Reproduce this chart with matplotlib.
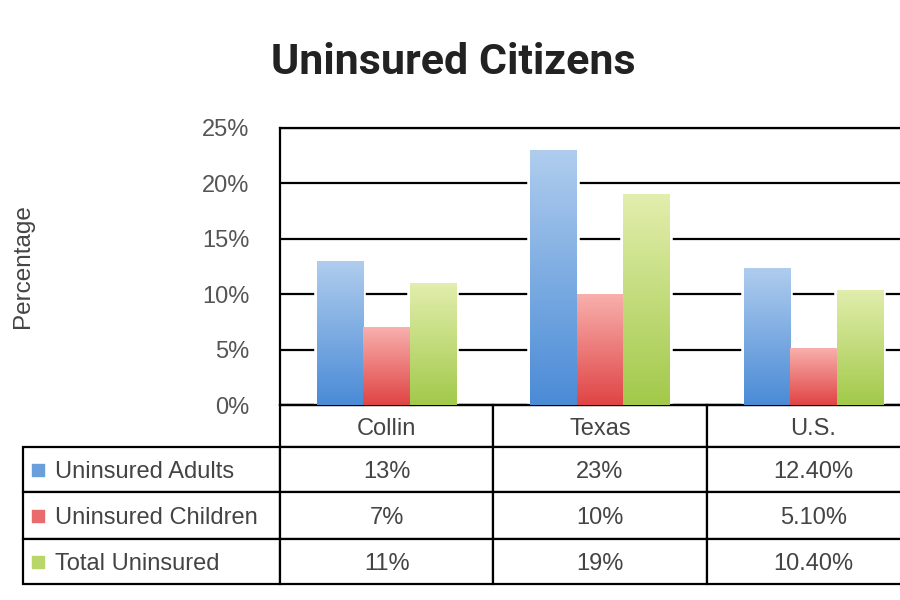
import numpy as np
import matplotlib.pyplot as plt
from matplotlib.table import Table
from matplotlib.colors import LinearSegmentedColormap

categories = ["Collin", "Texas", "U.S."]
series_names = ["Uninsured Adults", "Uninsured Children", "Total Uninsured"]
adults = [13, 23, 12.4]
children = [7, 10, 5.1]
total = [11, 19, 10.4]
cell_labels = [["13%", "23%", "12.40%"],
               ["7%", "10%", "5.10%"],
               ["11%", "19%", "10.40%"]]
yticks = [0, 5, 10, 15, 20, 25]

# top colour, bottom colour for the gradient
grads = [("#b0cdee", "#4a8bd6"),
         ("#f8b0ad", "#e04444"),
         ("#e2eead", "#a2c94a")]
solid = ["#6b9fdc", "#ea6b6b", "#b9d66b"]

plt.rcParams['font.family'] = ['Liberation Sans', 'DejaVu Sans']

fig = plt.figure(figsize=(9, 6), dpi=100)
AX_W, AX_H = 640, 277
ax = fig.add_axes([280 / 900, 1 - 405 / 600, AX_W / 900, AX_H / 600])

x = np.arange(len(categories)) + 0.5
w = 0.218

for i, vals in enumerate([adults, children, total]):
    pos = x + (i - 1) * w
    # white backing to break the grid lines around bars
    ax.bar(pos, vals, w, color="white", edgecolor="white", linewidth=4, zorder=2)
    bars = ax.bar(pos, vals, w, color=solid[i], zorder=3)
    cmap = LinearSegmentedColormap.from_list("g%d" % i, [grads[i][1], grads[i][0]])
    grad = np.linspace(0, 1, 256).reshape(-1, 1)
    for b in bars:
        bx, bw, bh = b.get_x(), b.get_width(), b.get_height()
        im = ax.imshow(grad, cmap=cmap, aspect="auto", origin="lower",
                       extent=[bx, bx + bw, 0, bh], zorder=4)
        im.set_clip_path(b)

ax.set_xlim(0, 3)
ax.set_ylim(0, 25)
ax.set_yticks(yticks)
ax.set_yticklabels(["%d%%" % t for t in yticks], fontsize=17, color="#555555")
ax.tick_params(axis="y", length=0, pad=22)
ax.set_xticks([])
ax.yaxis.grid(True, color="black", linewidth=1.6, zorder=1)
ax.set_axisbelow(True)
for s in ["left", "bottom", "top"]:
    ax.spines[s].set_linewidth(1.6)
ax.spines["right"].set_visible(False)

ax.set_ylabel("Percentage", fontsize=17.5, color="#444444")
ax.yaxis.set_label_coords((34 - 280) / AX_W, 0.5)

fig.text(453 / 900, 1 - 62 / 600, "Uninsured Citizens", ha="center", va="center",
         fontsize=31, fontweight="bold", color="#222222",
         family=['Roboto', 'Liberation Sans'])

# data table under the axes (label column + 3 data columns)
lab_w = 257 / AX_W
col_w = 1 / 3
row_h = [h / AX_H for h in [42, 45, 47, 45]]
tot_h = sum(row_h)
tab = Table(ax, bbox=[-lab_w, -tot_h, lab_w + 1, tot_h])
for j, c in enumerate(categories):
    tab.add_cell(0, j + 1, width=col_w, height=row_h[0], text=c, loc="center")
for r, name in enumerate(series_names):
    cell = tab.add_cell(r + 1, 0, width=lab_w, height=row_h[r + 1],
                        text=name, loc="left")
    cell.PAD = 0.125
    for j in range(3):
        tab.add_cell(r + 1, j + 1, width=col_w, height=row_h[r + 1],
                     text=cell_labels[r][j], loc="center")
tab.auto_set_font_size(False)
for key, cell in tab.get_celld().items():
    cell.set_linewidth(1.6)
    cell.set_edgecolor("black")
    cell.set_facecolor("white")
    cell.get_text().set_fontsize(17)
    cell.get_text().set_color("#444444")
    cell.get_text().set_verticalalignment("center_baseline")
ax.add_table(tab)

# legend swatches in the row labels
yc = -row_h[0]
for r in range(3):
    ymid = yc - row_h[r + 1] / 2
    yc -= row_h[r + 1]
    ax.scatter([(38 - 280) / AX_W], [ymid], marker="s", s=70,
               color=solid[r], transform=ax.transAxes, clip_on=False, zorder=5)

fig.savefig("out.png", dpi=100)
